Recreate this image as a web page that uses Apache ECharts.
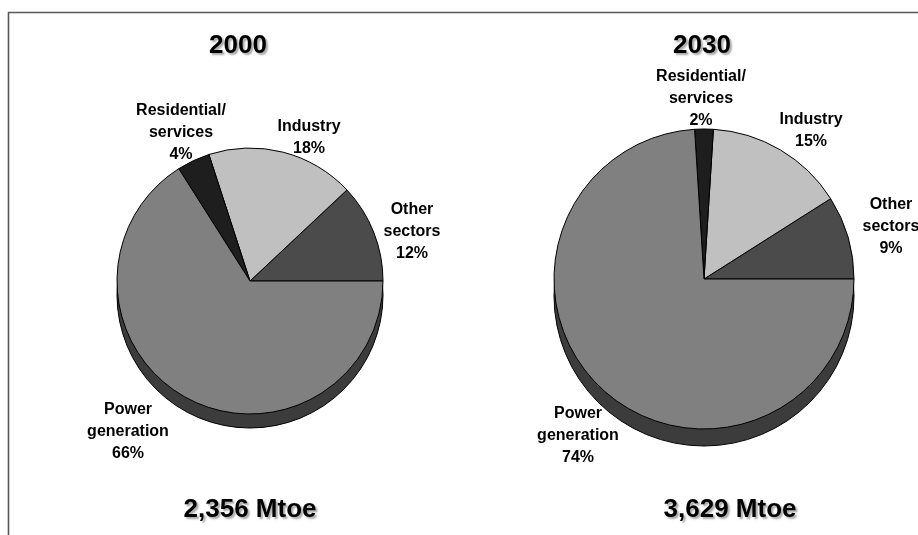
<!DOCTYPE html>
<html>
<head>
<meta charset="utf-8">
<script src="https://cdn.jsdelivr.net/npm/echarts@6/dist/echarts.min.js"></script>
<style>
  html, body { margin: 0; padding: 0; background: #ffffff; }
  #chart { width: 918px; height: 535px; }
</style>
</head>
<body>
<div id="chart"></div>
<script>
// Final energy demand by sector, shares in percent
const sectors = ['Other\nsectors', 'Industry', 'Residential/\nservices', 'Power\ngeneration'];
const share2000 = [12, 18, 4, 66];
const share2030 = [9, 15, 2, 74];
const years = ['2000', '2030'];
const totals = ['2,356 Mtoe', '3,629 Mtoe'];

// Styling
const sliceColors = ['#4b4b4b', '#c0c0c0', '#1e1e1e', '#808080'];
const rimColor = '#3c3c3c';
const fontFamily = '"Liberation Sans", Arial, Helvetica, sans-serif';

// Geometry of each pie and where its labels sit
const pieLayout = [
  { center: [250, 281], r: 133, depth: 14, titleX: 238, totalX: 250,
    labels: [[412, 232], [309, 138], [181, 133], [128, 432]] },
  { center: [704, 279], r: 150, depth: 17, titleX: 702, totalX: 730,
    labels: [[891, 227], [811, 131], [701, 99], [578, 436]] }
];

const shares = [share2000, share2030];

const series = [];
shares.forEach(function (values, k) {
  const p = pieLayout[k];
  const total = values.reduce(function (a, b) { return a + b; }, 0);
  // side of the disc, peeking out below the top face
  series.push({
    type: 'pie',
    z: 1,
    silent: true,
    animation: false,
    center: [p.center[0], p.center[1] + p.depth],
    radius: p.r,
    startAngle: 0,
    clockwise: false,
    data: [{ name: '', value: total }],
    itemStyle: { color: rimColor, borderColor: '#000', borderWidth: 1 },
    label: { show: false },
    labelLine: { show: false },
    emphasis: { disabled: true }
  });
  // top face with the sector slices
  series.push({
    type: 'pie',
    z: 2,
    silent: true,
    animation: false,
    center: p.center,
    radius: p.r,
    startAngle: 0,
    clockwise: false,
    avoidLabelOverlap: false,
    data: sectors.map(function (name, i) {
      return { name: name, value: values[i], itemStyle: { color: sliceColors[i] } };
    }),
    itemStyle: { borderColor: '#000', borderWidth: 1 },
    label: {
      show: true,
      position: 'outside',
      formatter: '{b}\n{c}%',
      color: '#000',
      fontFamily: fontFamily,
      fontWeight: 'bold',
      fontSize: 16,
      lineHeight: 22,
      align: 'center'
    },
    labelLine: { show: false },
    labelLayout: function (params) {
      const pos = p.labels[params.dataIndex];
      return { x: pos[0], y: pos[1], align: 'center', verticalAlign: 'middle' };
    },
    emphasis: { disabled: true }
  });
});

const graphics = [
  {
    type: 'polyline',
    shape: { points: [[8.5, 535], [8.5, 12.5], [918, 12.5]] },
    style: { stroke: '#585858', lineWidth: 1.6, fill: null },
    silent: true
  }
];

function bigText(text, x, y) {
  return {
    type: 'text',
    x: x,
    y: y,
    silent: true,
    style: {
      text: text,
      fill: '#000',
      font: 'bold 26px ' + fontFamily,
      align: 'center',
      verticalAlign: 'middle',
      textShadowColor: 'rgba(0,0,0,0.35)',
      textShadowBlur: 2,
      textShadowOffsetX: 2,
      textShadowOffsetY: 2
    }
  };
}

years.forEach(function (y, k) {
  graphics.push(bigText(y, pieLayout[k].titleX, 46));
  graphics.push(bigText(totals[k], pieLayout[k].totalX, 510));
});

const chart = echarts.init(document.getElementById('chart'), null, { renderer: 'canvas' });
chart.setOption({
  backgroundColor: '#ffffff',
  animation: false,
  series: series,
  graphic: graphics
});
</script>
</body>
</html>
